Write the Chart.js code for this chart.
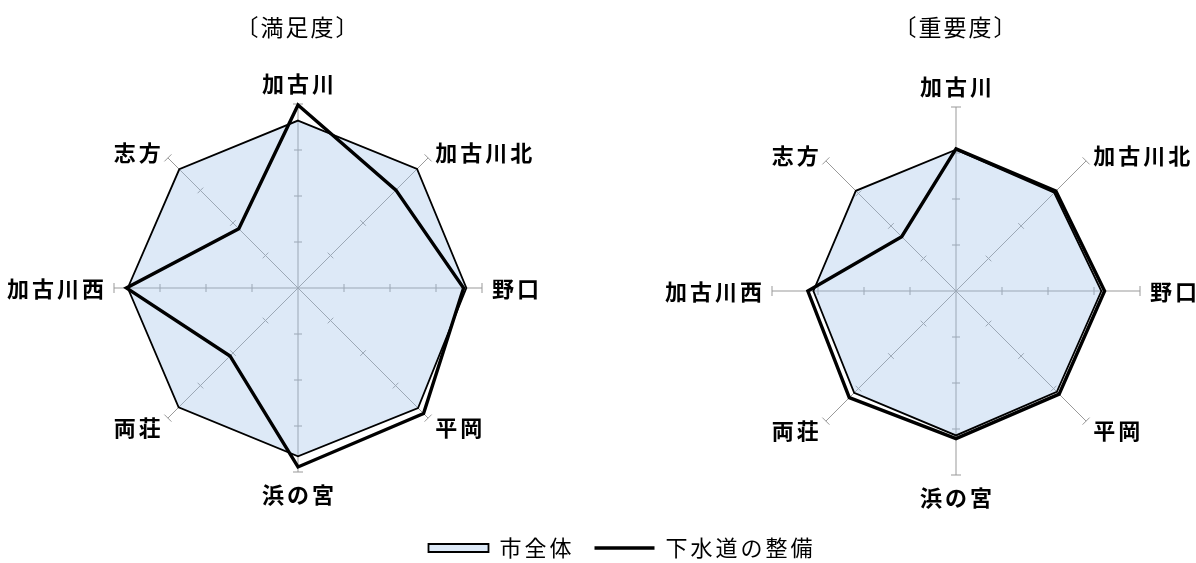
<!DOCTYPE html>
<html lang="ja">
<head>
<meta charset="utf-8">
<script src="https://cdn.jsdelivr.net/npm/chart.js@4.4.1/dist/chart.umd.min.js"></script>
<style>
html,body{margin:0;padding:0;background:#fff;}
body{width:1196px;height:563px;position:relative;overflow:hidden;}
canvas{position:absolute;}
#cSat{left:0;top:0;}
#cImp{left:600px;top:0;}
#cLegend{left:0;top:440px;}
</style>
</head>
<body>
<canvas id="cSat" width="596" height="520"></canvas>
<canvas id="cImp" width="596" height="520"></canvas>
<canvas id="cLegend" width="1196" height="160"></canvas>
<script>
// ---- data ----
const categories = ['加古川', '加古川北', '野口', '平岡', '浜の宮', '両荘', '加古川西', '志方'];
const chartTitles = ['〔満足度〕', '〔重要度〕'];
const seriesNames = ['市全体', '下水道の整備'];
const axisTicks = [0, 1, 2, 3, 4];

const satisfactionCity  = [3.64, 3.66, 3.66, 3.69, 3.66, 3.67, 3.70, 3.65];
const satisfactionSewer = [3.98, 3.01, 3.60, 3.86, 3.89, 2.09, 3.73, 1.82];
const importanceCity    = [3.07, 3.02, 3.16, 3.10, 3.14, 3.13, 3.10, 3.08];
const importanceSewer   = [3.09, 3.07, 3.23, 3.17, 3.21, 3.28, 3.22, 1.67];

// ---- styles ----
const FONT = '"Noto Sans CJK JP", "Noto Sans", sans-serif';
const FILL = 'rgba(160,195,232,0.36)';
const AXIS = '#999999';

function makeDatasets(city, sewer) {
  return [
    {
      label: seriesNames[0], data: city, order: 2,
      fill: true, backgroundColor: FILL, borderColor: '#000', borderWidth: 1.8,
      pointRadius: 0, pointHoverRadius: 0, pointHitRadius: 0,
      pointStyle: 'rect', pointBackgroundColor: FILL, pointBorderColor: '#000', pointBorderWidth: 1.8
    },
    {
      label: seriesNames[1], data: sewer, order: 1,
      fill: false, backgroundColor: 'rgba(0,0,0,0)', borderColor: '#000', borderWidth: 3.4,
      pointRadius: 0, pointHoverRadius: 0, pointHitRadius: 0,
      pointStyle: 'line', pointBackgroundColor: '#000', pointBorderColor: '#000', pointBorderWidth: 3.4
    }
  ];
}

function spacingPlugin(spacing) {
  return {
    id: 'spacing',
    beforeUpdate(chart) { chart.ctx.letterSpacing = spacing; },
    beforeDraw(chart) { chart.ctx.letterSpacing = spacing; }
  };
}

const spokeDecor = {
  id: 'spokeDecor',
  beforeDatasetsDraw(chart) {
    const s = chart.scales.r, ctx = chart.ctx;
    const n = chart.data.labels.length;
    ctx.save();
    ctx.strokeStyle = AXIS;
    ctx.lineWidth = 1;
    s.ticks.forEach(t => {
      if (t.value <= s.min) return;
      const half = t.value >= s.max ? 5 : 4;
      for (let i = 0; i < n; i++) {
        const p = s.getPointPositionForValue(i, t.value);
        const a = s.getIndexAngle(i) - Math.PI / 2;
        const ux = -Math.sin(a), uy = Math.cos(a);
        ctx.beginPath();
        ctx.moveTo(p.x - ux * half, p.y - uy * half);
        ctx.lineTo(p.x + ux * half, p.y + uy * half);
        ctx.stroke();
      }
    });
    ctx.restore();
  },
  afterDraw(chart) {
    const s = chart.scales.r, ctx = chart.ctx;
    const sp = 3;
    ctx.save();
    ctx.font = 'bold 22px ' + FONT;
    ctx.letterSpacing = sp + 'px';
    ctx.fillStyle = '#000';
    ctx.textBaseline = 'middle';
    chart.data.labels.forEach((lab, i) => {
      const a = s.getIndexAngle(i);
      const sx = Math.sin(a), cy = Math.cos(a);
      const p = s.getPointPosition(i, s.drawingArea + 10);
      const vertical = Math.abs(sx) < 0.1;
      const align = vertical ? 'center' : (sx > 0 ? 'left' : 'right');
      const dx = align === 'center' ? sp / 2 : (align === 'right' ? sp : 0);
      const dy = vertical ? (cy > 0 ? -10 : 13) : (Math.abs(cy) < 0.1 ? 1 : 2);
      ctx.textAlign = align;
      ctx.fillText(lab, p.x + dx, p.y + dy);
    });
    ctx.restore();
  }
};

function radarOptions(title, titlePadBottom, padding) {
  return {
    responsive: false,
    animation: false,
    devicePixelRatio: 1,
    events: [],
    layout: { padding },
    elements: { line: { tension: 0, borderJoinStyle: 'miter' } },
    scales: {
      r: {
        min: axisTicks[0],
        max: axisTicks[axisTicks.length - 1],
        ticks: { display: false, stepSize: axisTicks[1] - axisTicks[0] },
        grid: { display: false },
        angleLines: { display: true, color: AXIS, lineWidth: 1 },
        pointLabels: { display: false }
      }
    },
    plugins: {
      legend: { display: false },
      tooltip: { enabled: false },
      title: {
        display: true,
        text: title,
        color: '#000',
        font: { family: FONT, size: 23, weight: 'normal', lineHeight: 1.2 },
        padding: { top: 13, bottom: titlePadBottom }
      }
    }
  };
}

new Chart(document.getElementById('cSat'), {
  type: 'radar',
  data: { labels: categories, datasets: makeDatasets(satisfactionCity, satisfactionSewer) },
  options: radarOptions(chartTitles[0], 63.4, { left: 0, right: 0, top: 0, bottom: 48 }),
  plugins: [spacingPlugin('2px'), spokeDecor]
});

new Chart(document.getElementById('cImp'), {
  type: 'radar',
  data: { labels: categories, datasets: makeDatasets(importanceCity, importanceSewer) },
  options: radarOptions(chartTitles[1], 66.4, { left: 116, right: 0, top: 0, bottom: 45 }),
  plugins: [spacingPlugin('2px'), spokeDecor]
});

// shared legend (legend only; datasets are not drawn here)
new Chart(document.getElementById('cLegend'), {
  type: 'radar',
  data: { labels: categories, datasets: makeDatasets(satisfactionCity, satisfactionSewer) },
  options: {
    responsive: false,
    animation: false,
    devicePixelRatio: 1,
    events: [],
    layout: { padding: { left: 48, top: 77 } },
    scales: { r: { display: false } },
    plugins: {
      tooltip: { enabled: false },
      title: { display: false },
      legend: {
        display: true,
        position: 'top',
        maxHeight: 70,
        labels: {
          usePointStyle: true,
          pointStyleWidth: 60,
          boxHeight: 8,
          padding: 20,
          color: '#000',
          font: { family: FONT, size: 22 },
          sort: (a, b) => a.datasetIndex - b.datasetIndex
        }
      }
    }
  },
  plugins: [spacingPlugin('3px'), { id: 'legendOnly', beforeDatasetsDraw: () => false }]
});
</script>
</body>
</html>
